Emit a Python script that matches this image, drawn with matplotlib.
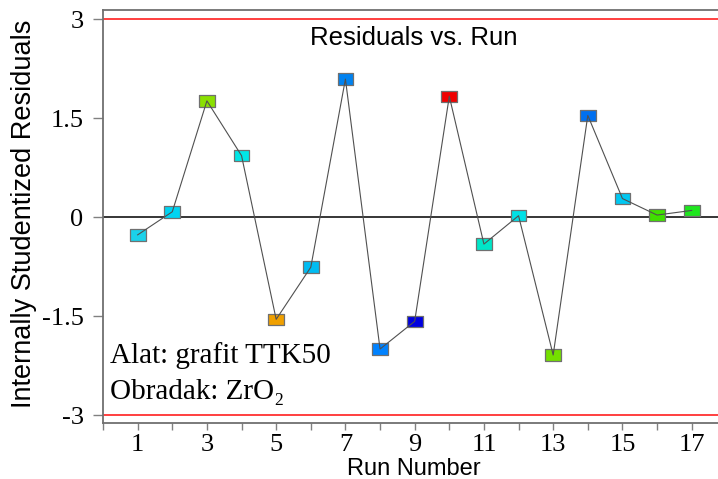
import numpy as np
import matplotlib
matplotlib.use('Agg')
import matplotlib.pyplot as plt

plt.rcParams['axes.unicode_minus'] = False

# dati
run = np.arange(1, 18)
residui = [-0.27, 0.08, 1.76, 0.93, -1.55, -0.76, 2.09, -2.00, -1.58,
           1.83, -0.41, 0.02, -2.09, 1.54, 0.28, 0.03, 0.10]
colori = ['#1ad2ea', '#00d4f2', '#8ae000', '#00e6e6', '#f0a000', '#00bcf2',
          '#0082f0', '#0082ff', '#0000e0', '#f00000', '#00e6c8', '#00e0e6',
          '#74e000', '#0070f0', '#00c8f2', '#40e000', '#1ee61e']
yticks = [-3, -1.5, 0, 1.5, 3]
ytick_labels = ['-3', '-1.5', '0', '1.5', '3']
xticks = [1, 3, 5, 7, 9, 11, 13, 15, 17]
limite = 3

fig = plt.figure(figsize=(7.18, 4.79), dpi=100)
ax = fig.add_axes([0.1435, 0.117, 0.8565, 0.862])

ax.axhline(limite, color='#ff3030', lw=1.3, zorder=1)
ax.axhline(-limite, color='#ff3030', lw=1.3, zorder=1)
ax.axhline(0, color='black', lw=1.1, zorder=1)

# marker rettangolare
rett = [(-0.62, -0.45), (0.62, -0.45), (0.62, 0.45), (-0.62, 0.45), (-0.62, -0.45)]
ax.scatter(run, residui, marker=rett, s=130, c=colori, edgecolors='#707070',
           linewidths=0.9, zorder=2)
ax.plot(run, residui, color='#505050', lw=0.8, zorder=3)

ax.set_xlim(0, 17.76)
ax.set_ylim(-3.12, 3.136)

ax.set_yticks(yticks)
ax.set_yticklabels(ytick_labels, family='Liberation Serif', fontsize=19)
ax.set_xticks(xticks)
ax.set_xticks(np.arange(0, 18, 2), minor=True)
ax.set_xticklabels([str(x) for x in xticks], family='Liberation Serif', fontsize=19)
ax.tick_params(axis='y', length=7, width=1, color='#808080', pad=7)
ax.tick_params(axis='x', which='both', length=5, width=1, color='#808080', pad=3)

for s in ['left', 'bottom', 'top']:
    ax.spines[s].set_color('#707070')
    ax.spines[s].set_linewidth(1.3)
ax.spines['right'].set_visible(False)

ax.set_xlabel('Run Number', family='Liberation Sans', fontsize=17)
ax.xaxis.set_label_coords(0.506, -0.085)
ax.set_ylabel('Internally Studentized Residuals', family='Liberation Sans',
              fontsize=19.5)
ax.yaxis.set_label_coords(-0.107, 0.506)

ax.text(0.506, 0.915, 'Residuals vs. Run', transform=ax.transAxes, ha='center',
        va='baseline', family='Liberation Sans', fontsize=18.5)
ax.text(0.012, 0.145, 'Alat: grafit TTK50', transform=ax.transAxes,
        family='Liberation Serif', fontsize=21, va='baseline')
ax.text(0.012, 0.058, 'Obradak: ZrO\u2082', transform=ax.transAxes,
        family=['Liberation Serif', 'DejaVu Serif'], fontsize=21, va='baseline')

plt.savefig('out.png', dpi=100)
